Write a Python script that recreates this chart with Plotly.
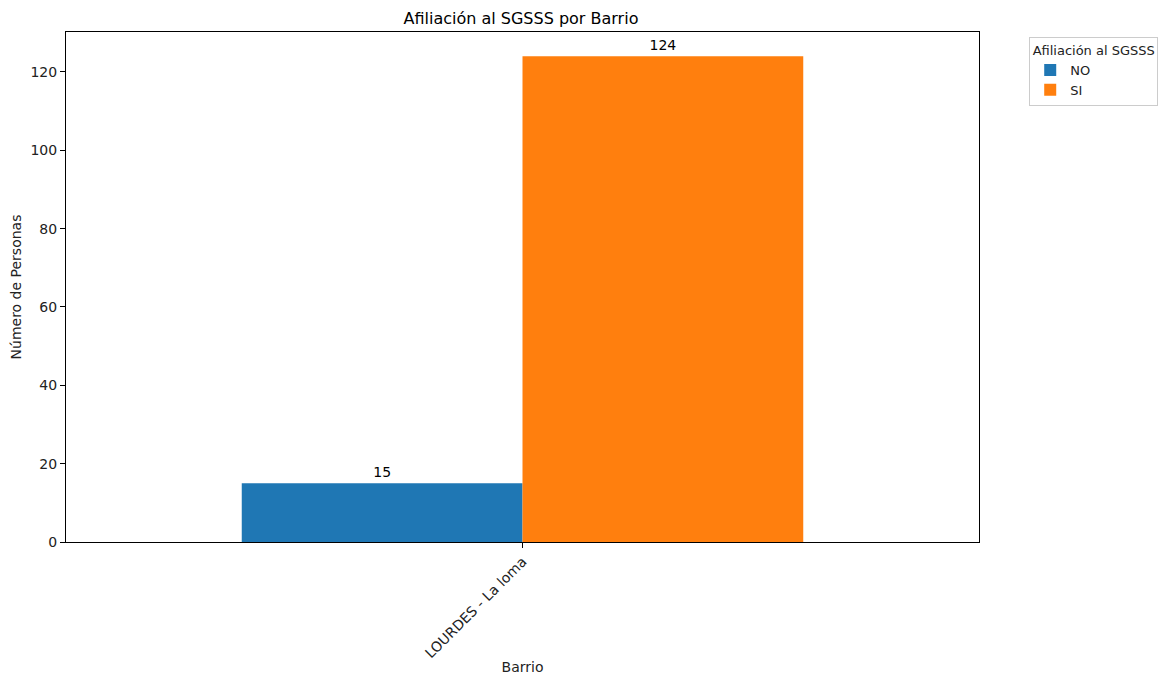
import plotly.graph_objects as go

barrios = ["LOURDES - La loma"]
series = ["NO", "SI"]
valores_no = [15]
valores_si = [124]
colores = ["#1f77b4", "#ff7f0e"]
y_ticks = [0, 20, 40, 60, 80, 100, 120]

fig = go.Figure()
for name, vals, col in zip(series, [valores_no, valores_si], colores):
    fig.add_trace(go.Bar(
        x=barrios, y=vals, name=name, marker=dict(color=col, line=dict(width=0)),
        text=[str(v) for v in vals], textposition="outside",
        textfont=dict(color="black", size=14, family="DejaVu Sans"),
        cliponaxis=False,
    ))

fig.update_layout(
    width=1164, height=667,
    paper_bgcolor="white", plot_bgcolor="white",
    font=dict(family="DejaVu Sans", size=14, color="#222"),
    title=dict(text="Afiliación al SGSSS por Barrio", x=0.4407, xanchor="center",
               y=0.985, yanchor="middle", font=dict(size=16, color="black")),
    margin=dict(l=58, r=193, t=24, b=133),
    barmode="group", bargap=0.385, bargroupgap=0,
    showlegend=True,
    legend=dict(
        title=dict(text="Afiliación al SGSSS", side="top center", font=dict(size=13)),
        x=1.055, y=0.99, xanchor="left", yanchor="top",
        bordercolor="#cccccc", borderwidth=1, bgcolor="white",
        font=dict(size=13),
    ),
    xaxis=dict(
        type="category", range=[-0.5, 0.5], tickangle=-45, automargin=False,
        showline=True, linecolor="black", linewidth=1, mirror=True,
        ticks="outside", ticklen=5, tickcolor="black",
        title=dict(text="Barrio", font=dict(size=14), standoff=14),
        showgrid=False,
    ),
    yaxis=dict(
        range=[0, 130.2], tickvals=y_ticks, automargin=False,
        showline=True, linecolor="black", linewidth=1, mirror=True,
        ticks="outside", ticklen=5, tickcolor="black",
        title=dict(text="Número de Personas", font=dict(size=14), standoff=8),
        showgrid=False, zeroline=False,
    ),
)

fig.write_html("out.html")
